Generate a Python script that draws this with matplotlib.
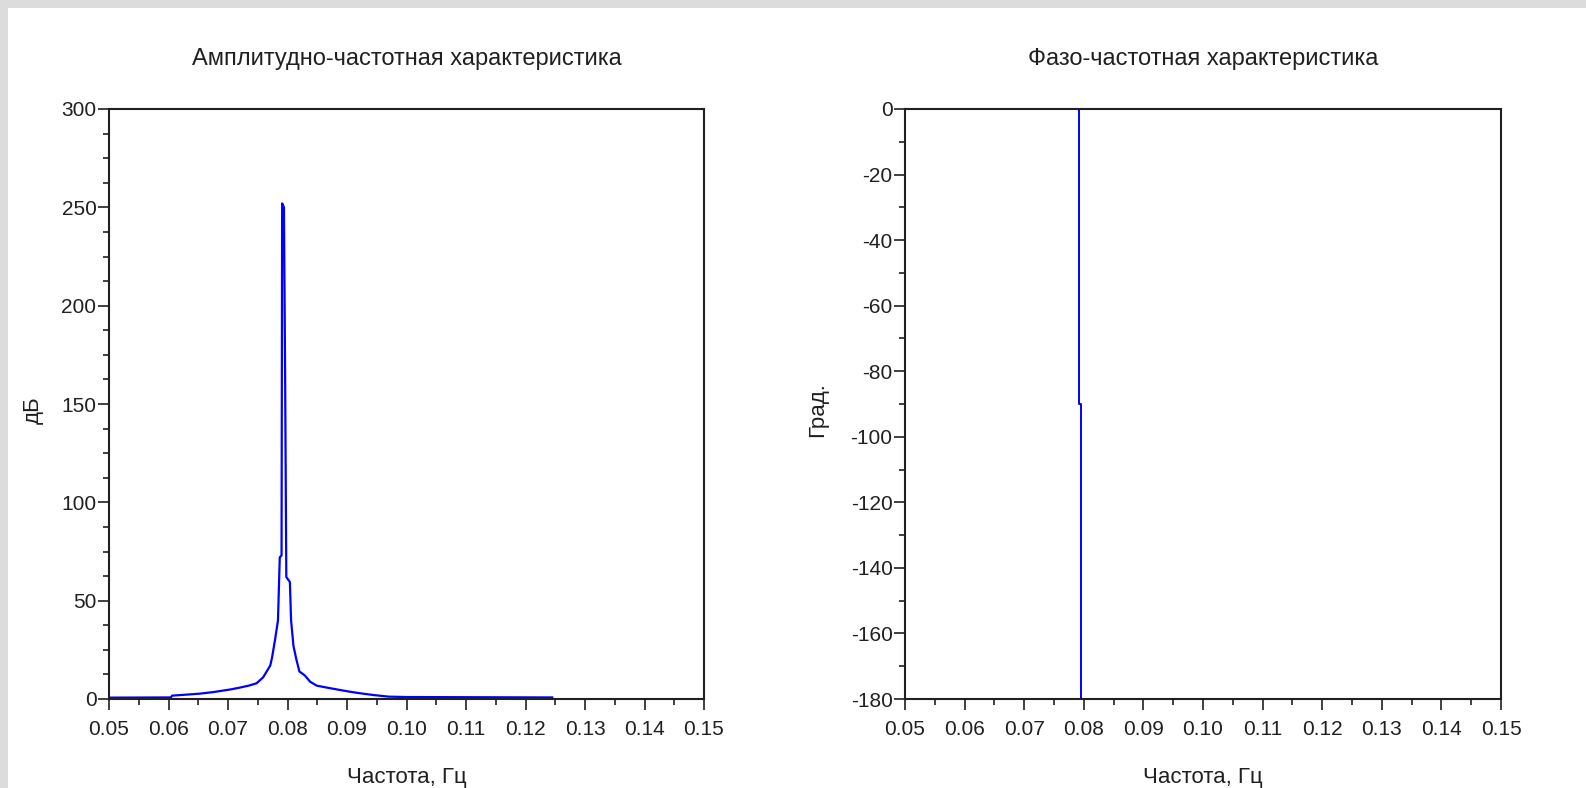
import matplotlib
matplotlib.use("Agg")
import matplotlib.pyplot as plt
from matplotlib.patches import Rectangle
from matplotlib.ticker import MultipleLocator, FormatStrFormatter

plt.rcParams['font.family'] = ['Liberation Sans', 'DejaVu Sans']

# amplitude response around the resonance
amp_freq = [0.0500, 0.0604, 0.0606, 0.0652, 0.0675, 0.0705, 0.0720, 0.0735,
            0.0748, 0.0759, 0.0765, 0.0771, 0.0774, 0.0779, 0.0784, 0.0787,
            0.0790, 0.0791, 0.0794, 0.0796, 0.0798, 0.0804, 0.0806, 0.0810,
            0.0815, 0.0820, 0.0829, 0.0838, 0.0849, 0.0866, 0.0888, 0.0905,
            0.0920, 0.0945, 0.0970, 0.1000, 0.1245]
amp_db = [0.7, 0.8, 1.7, 2.7, 3.5, 4.9, 5.8, 6.8,
          8.0, 11.0, 14.0, 17.0, 21.0, 30.0, 40.0, 72.0,
          73.0, 252.0, 250.0, 165.0, 62.0, 59.5, 40.0, 27.0,
          20.0, 14.0, 12.0, 8.8, 6.8, 5.8, 4.6, 3.7,
          3.0, 2.0, 1.2, 1.0, 0.8]

# phase response
ph_freq = [0.0500, 0.07925, 0.07925, 0.07953, 0.07953, 0.1245]
ph_deg = [0, 0, -90, -90, -180, -180]

W, H = 1586, 788
fig = plt.figure(figsize=(W / 100, H / 100), dpi=100, facecolor='#dcdcdc')
fig.patches.append(Rectangle((8 / W, 0), 1, (H - 8) / H, transform=fig.transFigure,
                             facecolor='white', edgecolor='none', zorder=-10))

ax1 = fig.add_axes([109 / W, (H - 699) / H, 595 / W, 590 / H])
ax2 = fig.add_axes([905 / W, (H - 699) / H, 596 / W, 590 / H])

ax1.plot(amp_freq, amp_db, color='#0000ff', lw=1.6)
ax2.plot(ph_freq, ph_deg, color='#0000ff', lw=1.4)

ax1.set_ylim(0, 300)
ax1.yaxis.set_major_locator(MultipleLocator(50))
ax1.yaxis.set_minor_locator(MultipleLocator(12.5))
ax2.set_ylim(-180, 0)
ax2.yaxis.set_major_locator(MultipleLocator(20))
ax2.yaxis.set_minor_locator(MultipleLocator(10))

fs = 15
ink = '#202020'
for ax, title, ylab, ylx in [(ax1, 'Амплитудно-частотная характеристика', 'дБ', -0.109),
                             (ax2, 'Фазо-частотная характеристика', 'Град.', -0.129)]:
    ax.set_facecolor('none')
    ax.set_xlim(0.05, 0.15)
    ax.xaxis.set_major_locator(MultipleLocator(0.01))
    ax.xaxis.set_minor_locator(MultipleLocator(0.005))
    ax.xaxis.set_major_formatter(FormatStrFormatter('%.2f'))
    ax.yaxis.set_major_formatter(FormatStrFormatter('%d'))
    ax.tick_params(which='major', direction='out', length=8, width=1.2,
                   labelsize=fs, colors=ink)
    ax.tick_params(axis='x', which='major', pad=7)
    ax.tick_params(axis='y', which='major', pad=1)
    ax.tick_params(which='minor', direction='out', length=4.5, width=1.2, colors=ink)
    for s in ax.spines.values():
        s.set_linewidth(1.5)
        s.set_color(ink)
    ax.set_title(title, fontsize=17, pad=32, color=ink)
    ax.set_xlabel('Частота, Гц', fontsize=16, color=ink)
    ax.xaxis.set_label_coords(0.5, -0.115)
    ax.set_ylabel(ylab, fontsize=16, color=ink)
    ax.yaxis.set_label_coords(ylx, 0.49)

fig.savefig('out.png', dpi=100, facecolor=fig.get_facecolor())
